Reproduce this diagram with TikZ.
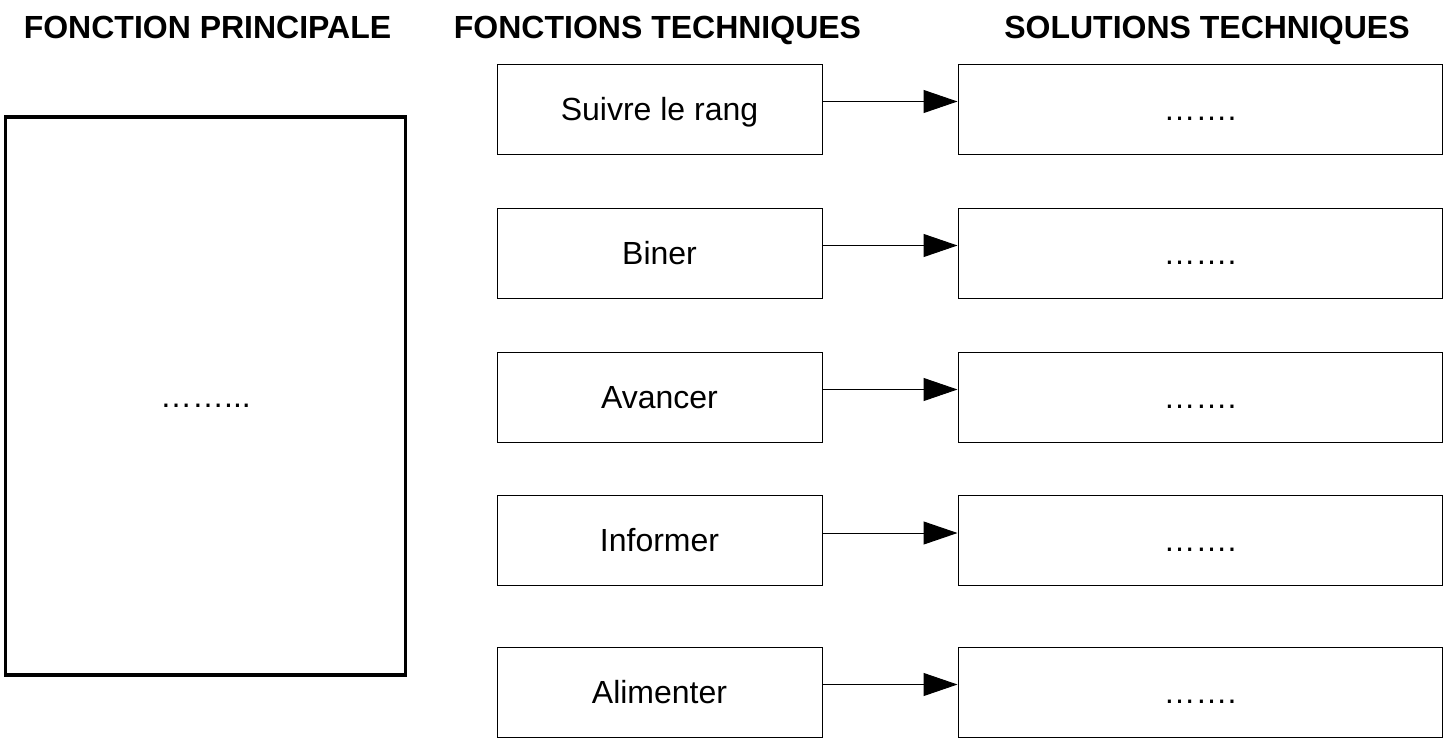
\documentclass[tikz,border=0pt]{standalone}
\usepackage{fontspec}
\setmainfont{Liberation Sans}
\usetikzlibrary{arrows.meta}

\begin{document}
\begin{tikzpicture}[x=1pt,y=-1pt,
  every node/.style={font=\fontsize{32}{38}\selectfont},
  heading/.style={font=\fontsize{32}{38}\selectfont\bfseries, anchor=base, inner sep=0pt},
  mainbox/.style={draw, line width=3.5pt, minimum width=400pt, minimum height=558pt,
    inner sep=0pt, text height=22.6pt, text depth=0pt},
  funcbox/.style={draw, line width=1pt, minimum width=325pt, minimum height=90pt,
    inner sep=0pt, text height=22.6pt, text depth=0pt},
  solbox/.style={draw, line width=1pt, minimum width=484pt, minimum height=90pt,
    inner sep=0pt, text height=22.6pt, text depth=0pt},
  link/.style={line width=1pt, -{Triangle[length=34pt,width=23pt]}}
]
  % page frame
  \useasboundingbox (0,0) rectangle (1447,742);

  % column headings
  \node[heading] (h1) at (207.5,38) {FONCTION PRINCIPALE};
  \node[heading] (h2) at (657.5,38) {FONCTIONS TECHNIQUES};
  \node[heading] (h3) at (1207,38) {SOLUTIONS TECHNIQUES};

  % main function
  \node[mainbox] (fp) at (205.5,396) {……...};

  % technical functions and their solutions
  \foreach \i/\y/\txt in {1/109/Suivre le rang, 2/253/Biner, 3/397/Avancer,
                          4/540.5/Informer, 5/692/Alimenter}{
    \node[funcbox] (ft\i) at (659.5,\y) {\txt};
    \node[solbox]  (st\i) at (1200,\y) {…….};
    \draw[link] ([yshift=7.5pt]ft\i.east) -- ([yshift=7.5pt]st\i.west);
  }
\end{tikzpicture}
\end{document}
